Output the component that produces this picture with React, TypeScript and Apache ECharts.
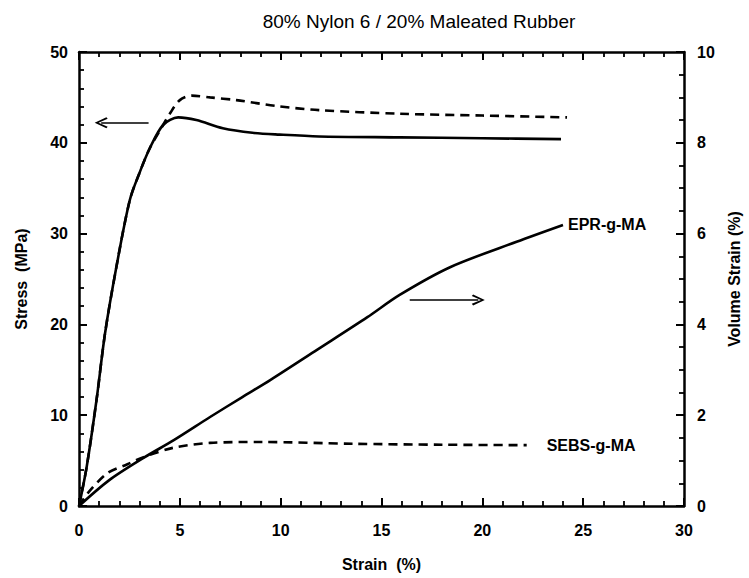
import React, { useEffect, useRef } from "react";
import * as echarts from "echarts";

const titleText = "80% Nylon 6 / 20% Maleated Rubber";

// Stress (MPa) vs strain (%), EPR-g-MA (solid)
const stressEPR: [number, number][] = [
  [0, 0], [0.38, 4.3], [0.87, 11.7], [1.29, 19.0], [1.86, 26.4],
  [2.52, 33.7], [3.02, 36.8], [3.51, 39.4], [4.17, 41.96], [4.92, 42.8],
  [5.82, 42.5], [7.13, 41.6], [8.6, 41.1], [9.95, 40.9], [11.9, 40.7],
  [15.9, 40.6], [20.0, 40.5], [23.9, 40.4],
];
// Stress (MPa) vs strain (%), SEBS-g-MA (dashed)
const stressSEBS: [number, number][] = [
  [0, 0], [0.38, 4.3], [0.87, 11.7], [1.29, 19.0], [1.86, 26.4],
  [2.52, 33.7], [3.02, 36.8], [3.51, 39.4], [4.17, 41.96], [4.5, 43.2],
  [5.0, 44.7], [5.6, 45.2], [6.5, 45.0], [7.8, 44.7], [9.8, 44.05],
  [11.9, 43.6], [15.9, 43.2], [20.0, 43.0], [24.2, 42.8],
];
// Volume strain (%) vs strain (%), EPR-g-MA (solid)
const volEPR: [number, number][] = [
  [0, 0], [1.5, 0.57], [3.2, 1.06], [4.7, 1.45], [6.5, 1.96], [8.1, 2.4],
  [9.5, 2.78], [11.8, 3.44], [14.3, 4.16], [15.9, 4.65], [18.4, 5.26],
  [21.7, 5.82], [24.0, 6.19],
];
// Volume strain (%) vs strain (%), SEBS-g-MA (dashed)
const volSEBS: [number, number][] = [
  [0, 0], [0.45, 0.29], [1.4, 0.72], [2.4, 0.92], [3.1, 1.06], [4.65, 1.28],
  [6.5, 1.39], [9.0, 1.41], [13.6, 1.37], [18.0, 1.35], [22.2, 1.34],
];
// Arrows: [start, end] in data coords
const stressArrow: [number, number][] = [[3.45, 42.2], [1.1, 42.2]];
const volArrow: [number, number][] = [[16.4, 4.54], [19.8, 4.54]];

const FONT = "Liberation Sans, Arial, Helvetica, sans-serif";
const chevron = "path://M5,0 L10,9 L8.6,10 L5,3 L1.4,10 L0,9 Z";

function build() {
  const axisLine = () => ({ show: true, onZero: false, lineStyle: { color: "#000", width: 2.5 } });
  const tick = () => ({ show: true, inside: true, length: 8, lineStyle: { color: "#000", width: 2 } });
  const minor = (n: number) => ({ show: true, splitNumber: n, length: 5, lineStyle: { color: "#000", width: 1.8 } });
  const lbl = { color: "#000", fontFamily: FONT, fontWeight: "bold" as const, fontSize: 16 };
  const smooth = 0.3;
  const dash: any = [9, 6];
  const mk = (pts: [number, number][]) => ({
    silent: true,
    symbol: ["none", chevron],
    symbolSize: [11, 13],
    label: { show: false },
    emphasis: { disabled: true },
    lineStyle: { color: "#000", width: 1.6, type: "solid" },
    data: [[{ coord: pts[0] }, { coord: pts[1] }]],
  });
  const el = (t: string, d: number) => ({ show: true, formatter: t, ...lbl, distance: d });
  const xAxes: any[] = [
    {
      type: "value", position: "bottom", min: 0, max: 30, interval: 5,
      axisLine: axisLine(), axisTick: tick(), minorTick: minor(5), splitLine: { show: false },
      axisLabel: { ...lbl, margin: 16 },
      name: "Strain  (%)", nameLocation: "middle", nameGap: 50, nameTextStyle: lbl,
    },
    {
      type: "value", position: "top", min: 0, max: 30, interval: 5,
      axisLine: axisLine(), axisTick: tick(), minorTick: minor(5), splitLine: { show: false },
      axisLabel: { show: false },
    },
  ];
  const opt: any = {
    animation: false,
    backgroundColor: "#fff",
    title: {
      text: titleText, left: 414, textAlign: "center", top: 7,
      textStyle: { color: "#000", fontFamily: FONT, fontWeight: "normal", fontSize: 19 },
    },
    grid: { left: 79, top: 52, width: 605, height: 454, containLabel: false, outerBoundsMode: "none" },
    xAxis: xAxes,
    yAxis: [
      {
        type: "value", position: "left", min: 0, max: 50, interval: 10,
        axisLine: axisLine(), axisTick: tick(), minorTick: minor(5), splitLine: { show: false },
        axisLabel: { ...lbl, margin: 11 },
        name: "Stress  (MPa)", nameLocation: "middle", nameGap: 50, nameRotate: 90, nameTextStyle: lbl,
      },
      {
        type: "value", position: "right", min: 0, max: 10, interval: 2,
        axisLine: axisLine(), axisTick: tick(), minorTick: minor(4), splitLine: { show: false },
        axisLabel: { ...lbl, margin: 13 },
        name: "Volume Strain (%)", nameLocation: "middle", nameGap: 42, nameRotate: 90, nameTextStyle: lbl,
      },
    ],
    series: [
      { type: "line", showSymbol: false, smooth, color: "#000", xAxisIndex: 0, yAxisIndex: 0, data: stressEPR, lineStyle: { color: "#000", width: 2.6 }, markLine: mk(stressArrow) },
      { type: "line", showSymbol: false, smooth, color: "#000", xAxisIndex: 0, yAxisIndex: 0, data: stressSEBS, lineStyle: { color: "#000", width: 2.6, type: dash } },
      { type: "line", showSymbol: false, smooth, color: "#000", xAxisIndex: 0, yAxisIndex: 1, data: volEPR, lineStyle: { color: "#000", width: 2.6 }, endLabel: el("EPR-g-MA", 5), markLine: mk(volArrow) },
      { type: "line", showSymbol: false, smooth, color: "#000", xAxisIndex: 0, yAxisIndex: 1, data: volSEBS, lineStyle: { color: "#000", width: 2.6, type: dash }, endLabel: el("SEBS-g-MA", 20) },
    ],
  };
  return opt;
}

export default function App() {
  const ref = useRef<HTMLDivElement>(null);
  useEffect(() => {
    if (!ref.current) return;
    const chart = echarts.init(ref.current, undefined, { renderer: "svg" });
    chart.setOption(build());
    return () => chart.dispose();
  }, []);
  return (
    <div style={{ position: "absolute", left: 0, top: 0, width: 749, lineHeight: 0, fontSize: 0 }}>
      <div ref={ref} style={{ width: 749, height: 578, display: "inline-block" }} />
    </div>
  );
}
